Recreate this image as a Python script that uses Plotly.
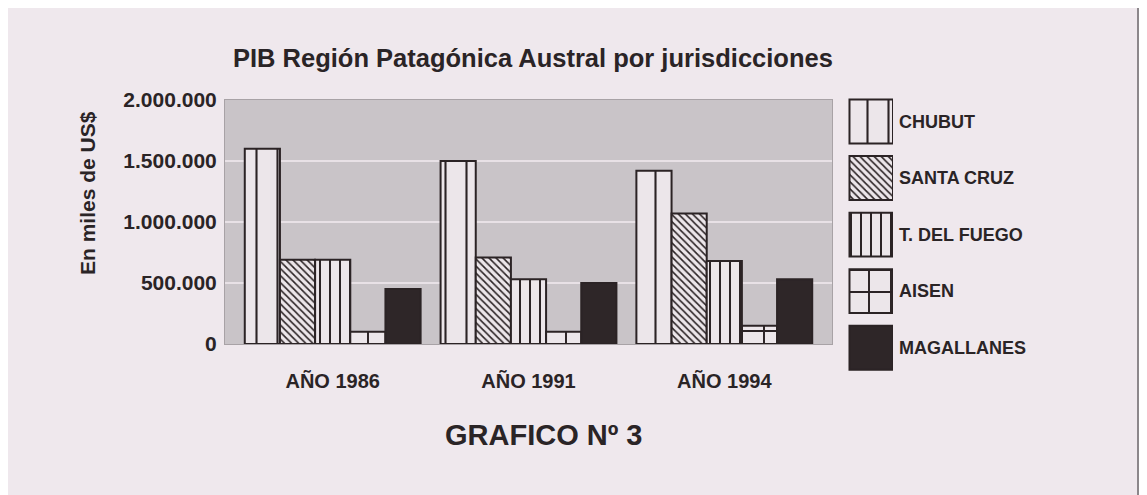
import plotly.graph_objects as go

# ---------------- data ----------------
years = ["AÑO 1986", "AÑO 1991", "AÑO 1994"]
series = ["CHUBUT", "SANTA CRUZ", "T. DEL FUEGO", "AISEN", "MAGALLANES"]
chubut = [1600000, 1500000, 1420000]
santa_cruz = [690000, 710000, 1070000]
t_del_fuego = [690000, 530000, 680000]
aisen = [100000, 100000, 150000]
magallanes = [450000, 500000, 530000]
values = [chubut, santa_cruz, t_del_fuego, aisen, magallanes]
y_ticks = [0, 500000, 1000000, 1500000, 2000000]
y_tick_text = ["0", "500.000", "1.000.000", "1.500.000", "2.000.000"]
legend_len = [1, 1, 1, 1, 1]

# ---------------- styles ----------------
OFF = 8  # page body margin shifts the figure
W, H = 1147 - OFF, 495 - OFF
# plot-area box expressed in screen pixels of the reference
SL, SR, ST, SB = 225, 893, 83, 376
L, R, T, B = SL - OFF, SR - OFF, ST - OFF, SB - OFF
PW, PH = R - L, B - T

def px(x):
    return (x - OFF - L) / PW

def py(y):
    return (B - (y - OFF)) / PH

DARK = "#2b2325"
LIGHT = "#ece6ea"
TXT = "#2a2426"
FONT = "Liberation Sans, Arial, Helvetica, sans-serif"

patterns = [
    dict(shape="|", size=21, solidity=0.1),
    dict(shape="\\", size=5, solidity=0.32),
    dict(shape="|", size=10, solidity=0.2),
    dict(shape="+", size=22, solidity=0.17),
    None,
]

def marker_for(i):
    if patterns[i] is None:
        return dict(color="#2e2628", line=dict(color=DARK, width=2))
    p = dict(patterns[i])
    p.update(fgcolor=DARK, bgcolor=LIGHT, fillmode="replace")
    return dict(color=LIGHT, pattern=p, line=dict(color=DARK, width=2))

fig = go.Figure()

for i, name in enumerate(series):
    fig.add_trace(go.Bar(
        x=years, y=values[i], name=name, marker=marker_for(i),
        showlegend=False, xaxis="x", yaxis="y",
    ))

# legend drawn as a small bar subplot
for i, name in enumerate(series):
    fig.add_trace(go.Bar(
        y=[name], x=[legend_len[i]], orientation="h", width=0.775,
        marker=marker_for(i), showlegend=False, xaxis="x2", yaxis="y2",
        hoverinfo="skip",
    ))

fig.update_layout(
    width=W, height=H,
    margin=dict(l=L, r=W - R, t=T, b=H - B, pad=0),
    paper_bgcolor="#f6f3f5",
    plot_bgcolor="rgba(0,0,0,0)",
    barmode="group", bargap=0.102, bargroupgap=0,
    font=dict(family=FONT, color=TXT),
    xaxis=dict(
        domain=[0, px(832)], range=[-0.55, 2.55], type="category",
        showgrid=False, zeroline=False, ticks="",
        showline=True, linecolor="#a8a2a6", linewidth=1, mirror=True,
        tickfont=dict(size=20, weight="bold", color=TXT),
        ticklabelstandoff=19,
    ),
    yaxis=dict(
        domain=[py(344), py(100)], range=[0, 2000000],
        tickvals=y_ticks, ticktext=y_tick_text,
        showgrid=True, gridcolor="#e8e1e6", gridwidth=2, zeroline=False,
        ticks="", showline=True, linecolor="#a8a2a6", linewidth=1, mirror=True,
        tickfont=dict(size=21, weight="bold", color=TXT),
        ticklabelstandoff=3,
    ),
    xaxis2=dict(domain=[px(836), 1], range=[-0.31, 1], visible=False),
    yaxis2=dict(
        domain=[0, 1], anchor="x2", side="right", type="category",
        categoryorder="array", categoryarray=series,
        range=[4.5, -0.68], showgrid=False, zeroline=False, showline=False,
        ticks="", tickfont=dict(size=18, weight="bold", color=TXT),
        ticklabelstandoff=5,
    ),
    shapes=[
        dict(type="rect", xref="paper", yref="paper", layer="below",
             x0=px(7), x1=px(1138), y0=py(530), y1=py(5),
             fillcolor="#efe8ed", line=dict(color="#8c878b", width=2)),
        dict(type="rect", xref="x domain", yref="y domain", layer="below",
             x0=0, x1=1, y0=0, y1=1, fillcolor="#c9c4c8", line=dict(width=0)),
    ],
    annotations=[
        dict(text="PIB Región Patagónica Austral por jurisdicciones",
             xref="paper", yref="paper", x=px(533), y=py(58),
             xanchor="center", yanchor="middle", showarrow=False,
             font=dict(size=25.5, weight="bold", color=TXT)),
        dict(text="En miles de US$", xref="paper", yref="paper",
             x=px(87), y=py(193), textangle=-90, xanchor="center",
             yanchor="middle", showarrow=False,
             font=dict(size=21, weight="bold", color=TXT)),
        dict(text="GRAFICO Nº 3", xref="paper", yref="paper",
             x=px(544), y=py(435), xanchor="center", yanchor="middle",
             showarrow=False,
             font=dict(size=29, weight="bold", color=TXT)),
    ],
)

fig.write_html("out.html")
